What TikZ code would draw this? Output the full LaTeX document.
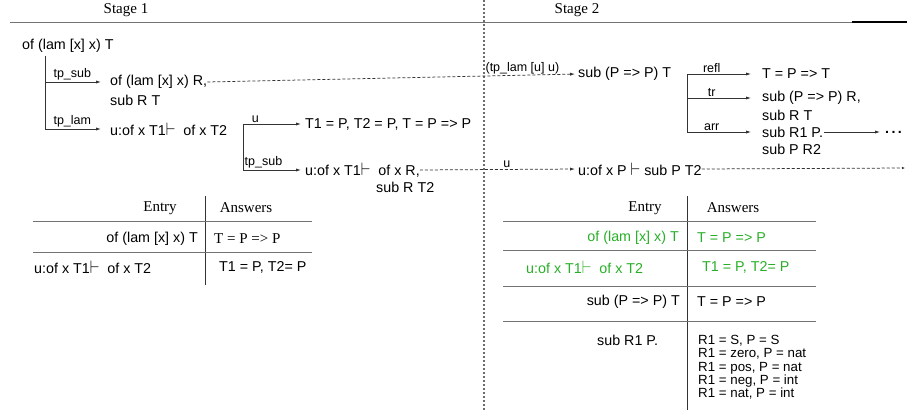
\documentclass[tikz,border=0pt]{standalone}
\usepackage{fontspec}
\usepackage{graphicx}
\setmainfont{Liberation Sans}
\newfontfamily\seriffont{Liberation Serif}
\usetikzlibrary{arrows.meta}
\definecolor{ink}{gray}{0.2}
\definecolor{rulegray}{gray}{0.45}
\definecolor{hit}{RGB}{40,175,40}
\newcommand{\turnstile}{\scalebox{1.1}[1.25]{$\vdash$}}
\begin{document}
\begin{tikzpicture}[x=1pt,y=-1pt,
  txt/.style={font=\fontsize{14.3}{17}\selectfont, inner sep=0pt},
  lbl/.style={font=\fontsize{12.5}{13}\selectfont, inner sep=0pt, above=1.2pt},
  hdr/.style={font=\seriffont\fontsize{15}{17}\selectfont, inner sep=0pt},
  tree/.style={draw=ink, line width=0.8pt},
  arr/.style={tree, -{Latex[length=5pt,width=3.2pt]}, shorten >=4pt},
  dsh/.style={draw=ink, line width=0.75pt, dash pattern=on 3pt off 2pt,
              -{Latex[length=5pt,width=3.2pt]}, shorten >=3pt},
  rule/.style={draw=rulegray, line width=0.9pt},
]
\useasboundingbox (0,0) rectangle (907,412);

% stage headings and separators
\node[hdr] (s1) at (126,10) {Stage 1};
\node[hdr] (s2) at (577,10) {Stage 2};
\draw[rule] (10,22) -- (852,22);
\draw[draw=black, line width=1.2pt] (852,22) -- (907,22);
\draw[draw=gray!85!black, line width=1.1pt, dash pattern=on 2pt off 2pt] (484,0) -- (484,412);

% ---- stage 1 derivation ----
\node[txt, anchor=west] (r0) at (22,46) {of (lam [x] x) T};
\node[txt, anchor=west] (c1) at (110,82) {of (lam [x] x) R,};
\node[txt, anchor=west] (c1b) at (110,100) {sub R T};
\node[txt, anchor=west] (c2) at (110,129) {u:of x T1\turnstile\ \ of x T2};
\coordinate (j0) at (45,56);
\draw[tree] (j0) -- (j0 |- c2);
\draw[arr, shorten >=9pt] (j0 |- c1) -- (c1.west) node[lbl, pos=0.42] {tp\_sub};
\draw[arr, shorten >=9pt] (j0 |- c2) -- (c2.west) node[lbl, pos=0.42] {tp\_lam};

\node[txt, anchor=west] (n3) at (305,124) {T1 = P, T2 = P, T = P => P};
\node[txt, anchor=west] (n4) at (305,170) {u:of x T1\turnstile\ \ of x R,};
\node[txt, anchor=west] (n4b) at (376,187) {sub R T2};
\coordinate (j1) at (243,170);
\draw[tree] (j1 |- n3) -- (j1);
\draw[arr] (j1 |- n3) -- (n3.west) node[lbl, pos=0.2] {u};
\draw[arr] (j1) -- (n4.west) node[lbl, pos=0.33] {tp\_sub};

% ---- stage 2 derivation ----
\node[txt, anchor=west] (n5) at (578,74) {sub (P => P) T};
\node[txt, anchor=west] (n7) at (762,74) {T = P => T};
\node[txt, anchor=west] (n8) at (762,98) {sub (P => P) R,};
\node[txt, anchor=west] (n8b) at (762,115) {sub R T};
\node[txt, anchor=west] (n9) at (762,132) {sub R1 P.};
\node[txt, anchor=west] (n9b) at (762,149) {sub P R2};
\node[txt, anchor=west] (n10) at (885,132) {\bfseries .\,.\,.};
\coordinate (j2) at (687,74);
\draw[tree] (j2) -- (j2 |- n9);
\draw[arr, shorten >=11pt] (j2) -- (n7.west) node[lbl, pos=0.33] {refl};
\draw[arr, shorten >=11pt] (j2 |- n8) -- (n8.west) node[lbl, pos=0.33] {tr};
\draw[arr, shorten >=11pt] (j2 |- n9) -- (n9.west) node[lbl, pos=0.33] {arr};
\draw[arr, shorten <=1pt, shorten >=5pt] (n9.east) -- (n10.west);

\node[txt, anchor=west] (n6) at (578,169) {u:of x P \turnstile\ sub P T2};
\coordinate (tail) at (905,168);

% links between the stages
\draw[dsh] (c1.east) -- (n5.west) node[lbl, pos=0.85] {(tp\_lam [u] u)};
\draw[dsh] (n4.east) -- (n6.west) node[lbl, pos=0.55] {u};
\draw[dsh, shorten >=0pt, -{Latex[length=3pt,width=2.5pt]}] (n6.east) -- (tail);

% ---- stage 1 table ----
\node[hdr] (e1) at (160,208) {Entry};
\node[hdr] (a1) at (246,208) {Answers};
\draw[tree] (205,196) -- (205,285);
\draw[rule] (33,221) -- (312,221);
\draw[rule] (33,252) -- (312,252);
\node[txt, anchor=east] (t1e) at (198,239) {of (lam [x] x) T};
\node[hdr, anchor=west] (t1a) at (214,239) {T = P => P};
\node[txt, anchor=west] (t2e) at (34,267) {u:of x T1\turnstile\ \ of x T2};
\node[txt, anchor=west] (t2a) at (219,267) {T1 = P, T2= P};

% ---- stage 2 table ----
\node[hdr] (e2) at (645,208) {Entry};
\node[hdr] (a2) at (733,208) {Answers};
\draw[tree] (687,196) -- (687,410);
\draw[rule] (503,221) -- (816,221);
\draw[rule] (503,250) -- (816,250);
\draw[rule] (503,286) -- (816,286);
\draw[rule] (503,321) -- (816,321);
\node[txt, anchor=east, text=hit] (u1e) at (679,238) {of (lam [x] x) T};
\node[txt, anchor=west, text=hit] (u1a) at (697,238) {T = P => P};
\node[txt, anchor=west, text=hit] (u2e) at (526,267) {u:of x T1\turnstile\ \ of x T2};
\node[txt, anchor=west, text=hit] (u2a) at (702,267) {T1 = P, T2= P};
\node[txt, anchor=east] (u3e) at (680,302) {sub (P => P) T};
\node[txt, anchor=west] (u3a) at (697,302) {T = P => P};
\node[txt, anchor=west] (u4e) at (597,340) {sub R1 P.};
\node[txt, anchor=north west, align=left, font=\fontsize{13.3}{13.3}\selectfont]
  (u4a) at (698,335) {R1 = S, P = S\\R1 = zero, P = nat\\R1 = pos, P = nat\\R1 = neg, P = int\\R1 = nat, P = int};
\end{tikzpicture}
\end{document}
